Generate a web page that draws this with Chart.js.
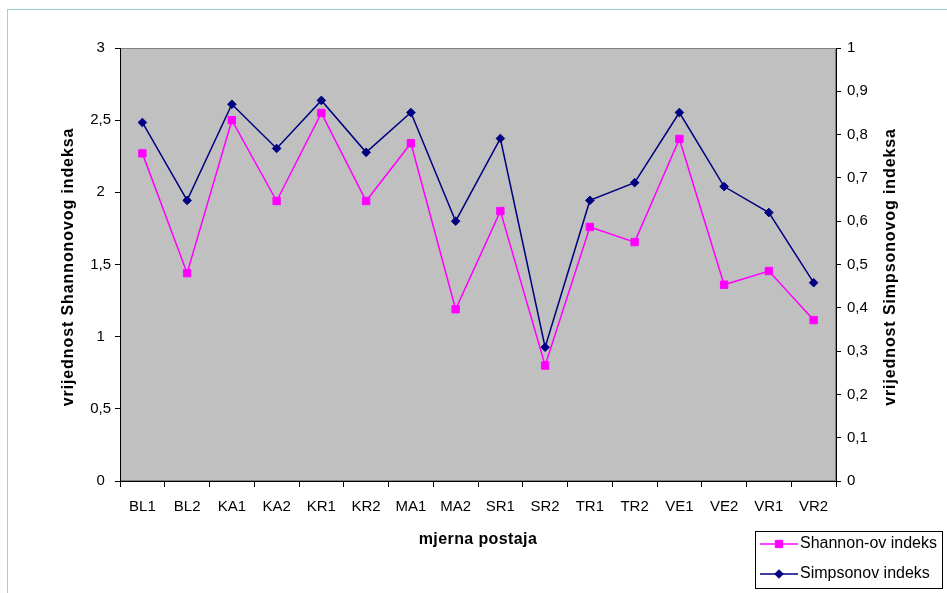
<!DOCTYPE html>
<html><head><meta charset="utf-8">
<script src="https://cdn.jsdelivr.net/npm/chart.js@4.4.0/dist/chart.umd.min.js"></script>
<style>html,body{margin:0;padding:0;background:#fff;overflow:hidden}canvas{display:block}</style>
</head><body>
<canvas id="c" width="947" height="593"></canvas>
<script>
const categories = ['BL1','BL2','KA1','KA2','KR1','KR2','MA1','MA2','SR1','SR2','TR1','TR2','VE1','VE2','VR1','VR2'];
const shannonValues = [2.27,1.44,2.50,1.94,2.55,1.94,2.34,1.19,1.87,0.80,1.76,1.655,2.37,1.36,1.455,1.115];
const simpsonValues = [0.828,0.648,0.870,0.768,0.879,0.759,0.851,0.600,0.791,0.309,0.648,0.689,0.851,0.680,0.620,0.458];
const leftTickValues = [0,0.5,1,1.5,2,2.5,3];
const rightTickValues = [0,0.1,0.2,0.3,0.4,0.5,0.6,0.7,0.8,0.9,1];
const seriesNames = ['Shannon-ov indeks','Simpsonov indeks'];
const xTitle = 'mjerna postaja';
const leftTitle = 'vrijednost Shannonovog indeksa';
const rightTitle = 'vrijednost Simpsonovog indeksa';

const FONT = "'Liberation Sans', Arial, sans-serif";
const fmt = v => String(Number(Number(v).toFixed(1))).replace('.', ',');

const deco = {
  id: 'deco',
  beforeDraw(chart) {
    const {ctx, chartArea: a} = chart;
    ctx.save();
    ctx.fillStyle = '#ffffff';
    ctx.fillRect(0, 0, chart.width, chart.height);
    ctx.strokeStyle = '#9fd0d8';
    ctx.lineWidth = 1;
    ctx.strokeRect(7.5, 9.5, 1200, 1200);
    ctx.fillStyle = '#c0c0c0';
    ctx.fillRect(a.left, a.top, a.right - a.left, a.bottom - a.top);
    ctx.strokeStyle = '#808080';
    ctx.strokeRect(a.left + 0.5, a.top + 0.5, a.right - a.left - 1, a.bottom - a.top - 1);
    ctx.restore();
  },
  afterDraw(chart) {
    const {ctx, chartArea: a} = chart;
    ctx.save();
    ctx.fillStyle = '#000';
    ctx.font = 'bold 16px ' + FONT;
    ctx.textAlign = 'center';
    ctx.textBaseline = 'middle';
    ctx.letterSpacing = '0.4px';
    ctx.fillText(xTitle, (a.left + a.right) / 2, 540);
    ctx.letterSpacing = '0.9px';
    [[69, leftTitle], [891, rightTitle]].forEach(([x, t]) => {
      ctx.save();
      ctx.translate(x, 267);
      ctx.rotate(-Math.PI / 2);
      ctx.fillText(t, 0, 0);
      ctx.restore();
    });
    ctx.letterSpacing = '0px';
    // legend
    const lx = 755.5, ly = 531.5, lw = 187, lh = 57;
    ctx.fillStyle = '#fff';
    ctx.fillRect(lx, ly, lw, lh);
    ctx.strokeStyle = '#000';
    ctx.lineWidth = 1;
    ctx.strokeRect(lx, ly, lw, lh);
    chart.data.datasets.forEach((ds, i) => {
      const y = 544 + i * 30;
      ctx.strokeStyle = ds.borderColor;
      ctx.lineWidth = 1.5;
      ctx.beginPath();
      ctx.moveTo(760, y);
      ctx.lineTo(798, y);
      ctx.stroke();
      ctx.fillStyle = ds.backgroundColor;
      ctx.strokeStyle = ds.borderColor;
      ctx.lineWidth = 1;
      Chart.helpers.drawPoint(ctx, {pointStyle: ds.pointStyle, radius: ds.pointRadius, borderWidth: 1, rotation: 0}, 779, y);
      ctx.fillStyle = '#000';
      ctx.font = '16px ' + FONT;
      ctx.textAlign = 'left';
      ctx.fillText(ds.label, 800, y);
    });
    ctx.restore();
  }
};

new Chart(document.getElementById('c'), {
  type: 'line',
  data: {
    labels: categories,
    datasets: [
      {label: seriesNames[0], data: shannonValues, yAxisID: 'y',
       borderColor: '#ff00ff', backgroundColor: '#ff00ff', borderWidth: 1.5,
       pointStyle: 'rect', pointRadius: 5.2, pointBorderWidth: 1, tension: 0},
      {label: seriesNames[1], data: simpsonValues, yAxisID: 'y1',
       borderColor: '#000080', backgroundColor: '#000080', borderWidth: 1.5,
       pointStyle: 'rectRot', pointRadius: 4.3, pointBorderWidth: 1, tension: 0}
    ]
  },
  options: {
    responsive: false,
    animation: false,
    layout: {padding: {left: 0, right: 0, top: 48, bottom: 0}},
    plugins: {legend: {display: false}, tooltip: {enabled: false}},
    scales: {
      x: {
        type: 'category', offset: true,
        grid: {offset: true, drawOnChartArea: false, drawTicks: true, tickLength: 6, color: '#000'},
        border: {display: true, color: '#000'},
        ticks: {color: '#000', font: {family: FONT, size: 15}, padding: 11, maxRotation: 0, autoSkip: false},
        afterFit: s => { s.height = 112; }
      },
      y: {
        position: 'left', min: 0, max: 3,
        grid: {drawOnChartArea: false, tickLength: 5, color: '#000'},
        border: {display: true, color: '#000'},
        ticks: {color: '#000', font: {family: FONT, size: 15}, padding: 4, crossAlign: 'center', callback: v => fmt(v)},
        afterBuildTicks: s => { s.ticks = leftTickValues.map(v => ({value: v})); },
        afterFit: s => { s.width = 120; }
      },
      y1: {
        position: 'right', min: 0, max: 1,
        grid: {drawOnChartArea: false, tickLength: 5, color: '#000'},
        border: {display: true, color: '#000'},
        ticks: {color: '#000', font: {family: FONT, size: 15}, padding: 6, callback: v => fmt(v)},
        afterBuildTicks: s => { s.ticks = rightTickValues.map(v => ({value: v})); },
        afterFit: s => { s.width = 111; }
      }
    }
  },
  plugins: [deco]
});
</script>
</body></html>
